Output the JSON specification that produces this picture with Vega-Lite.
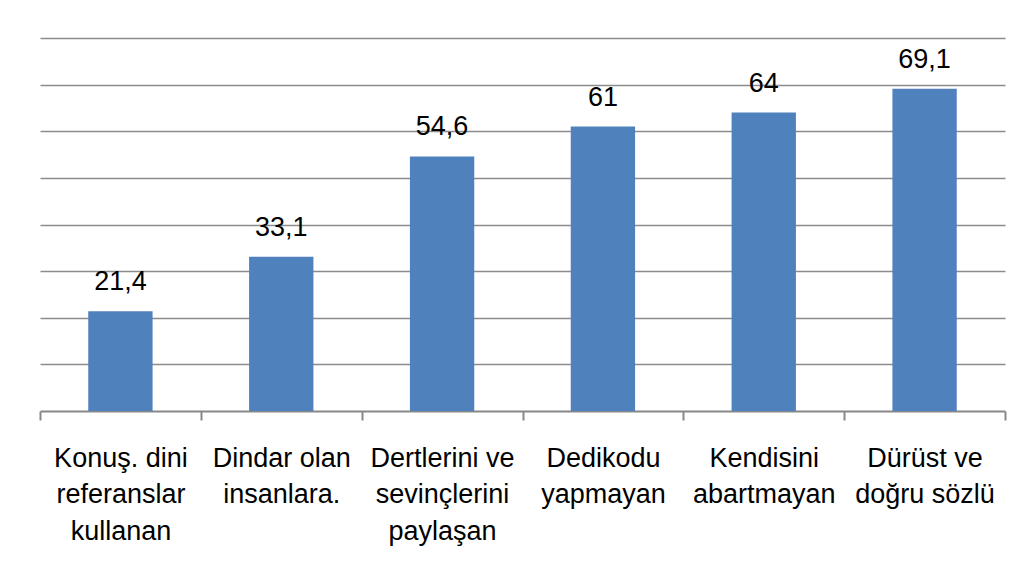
{
  "$schema": "https://vega.github.io/schema/vega-lite/v6.json",
  "autosize": {"type": "none"},
  "width": 965,
  "height": 373,
  "padding": {"left": 40, "top": 38, "right": 24, "bottom": 167},
  "background": "white",
  "config": {
    "view": {"stroke": null},
    "font": "Liberation Sans",
    "locale": {"number": {"decimal": ",", "thousands": ".", "grouping": [3], "currency": ["", ""]}}
  },
  "data": {
    "values": [
      {"category": "Konuş. dini|referanslar|kullanan", "value": 21.4},
      {"category": "Dindar olan|insanlara.", "value": 33.1},
      {"category": "Dertlerini ve|sevinçlerini|paylaşan", "value": 54.6},
      {"category": "Dedikodu|yapmayan", "value": 61},
      {"category": "Kendisini|abartmayan", "value": 64},
      {"category": "Dürüst ve|doğru sözlü", "value": 69.1}
    ]
  },
  "encoding": {
    "x": {
      "field": "category",
      "type": "nominal",
      "sort": null,
      "scale": {"paddingInner": 0, "paddingOuter": 0},
      "axis": {
        "title": null,
        "labelAngle": 0,
        "labelExpr": "isValid(datum.value) ? split(datum.value, '|') : ''",
        "labelFontSize": 27,
        "labelLineHeight": 36.5,
        "labelColor": "#000000",
        "labelPadding": 25,
        "labelLimit": 0,
        "tickBand": "extent",
        "tickSize": 9,
        "tickColor": "#888888",
        "tickWidth": 2,
        "domainColor": "#888888",
        "domainWidth": 2,
        "grid": false
      }
    },
    "y": {
      "field": "value",
      "type": "quantitative",
      "scale": {"domain": [0, 80], "nice": false},
      "axis": {
        "title": null,
        "labels": false,
        "ticks": false,
        "domain": false,
        "values": [10, 20, 30, 40, 50, 60, 70, 80],
        "gridColor": "#8c8c8c",
        "gridWidth": 1.5
      }
    }
  },
  "layer": [
    {"mark": {"type": "bar", "color": "#4F81BD", "width": {"band": 0.4}}},
    {
      "mark": {"type": "text", "fontSize": 27, "color": "#000000", "baseline": "alphabetic", "dy": -21},
      "encoding": {"text": {"field": "value", "type": "quantitative", "format": ".1~f"}}
    }
  ]
}
